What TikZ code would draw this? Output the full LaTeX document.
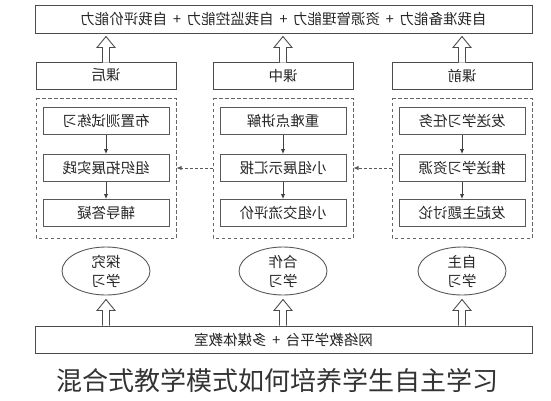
\documentclass[tikz,border=0pt]{standalone}
\usepackage{fontspec}
\newfontfamily\cjk{Noto Sans CJK SC}
\usetikzlibrary{shapes.geometric,arrows.meta}

\begin{document}
\begin{tikzpicture}
   [x=1pt,y=-1pt,
   every node/.style={font=\cjk\fontsize{14.5}{19}\selectfont,text=black!85,inner sep=0pt},
   wide/.style={draw=black!70,line width=1pt,minimum width=497pt,minimum height=28pt},
   stage/.style={draw=black!70,line width=1pt,minimum width=140pt,minimum height=27pt},
   stepbox/.style={draw=black!65,line width=1pt,minimum width=126pt,minimum height=27pt},
   group/.style={draw=black!60,line width=1pt,dash pattern=on 3.5pt off 2.5pt,minimum width=140pt,minimum height=140pt},
   study/.style={ellipse,draw=black!65,line width=0.9pt,minimum width=88pt,minimum height=48pt,align=center},
   down/.style={-{Latex[length=5pt,width=4.5pt]},black!75,line width=0.9pt},
   link/.style={-{Latex[length=5pt,width=4.5pt]},black!65,line width=0.9pt,dash pattern=on 3pt off 2pt},
   hollowup/.pic={\draw[black!70,line width=0.9pt,fill=white]
      (-3.5,0) -- (-3.5,-15) -- (-9,-15) -- (0,-26) -- (9,-15) -- (3.5,-15) -- (3.5,0);}]
    \useasboundingbox (0,0) rectangle (551,400);
    % the whole chart is printed mirrored
    \begin{scope}[xshift=551pt,xscale=-1,transform shape]
    \node[wide] (abil) at (267.5,19) {自我准备能力 \,+\, 资源管理能力 \,+\, 自我监控能力 \,+\, 自我评价能力};
    \node[stage] (hpre) at (89,75.5) {课前};
    \node[stage] (hin) at (268,75.5) {课中};
    \node[stage] (hpost) at (445,75.5) {课后};
    \pic at ([yshift=-1pt]hpre.north) {hollowup};
    \pic at ([yshift=-1pt]hin.north) {hollowup};
    \pic at ([yshift=-1pt]hpost.north) {hollowup};
    % groups of steps
    \node[group] (gpre) at (89,168) {};
    \node[group] (gin) at (268,168) {};
    \node[group] (gpost) at (445,168) {};
    \node[stepbox] (pre1) at (89,120.5) {发送学习任务};
    \node[stepbox] (pre2) at (89,168) {推送学习资源};
    \node[stepbox] (pre3) at (89,213) {发起主题讨论};
    \node[stepbox] (in1) at (268,120.5) {重难点讲解};
    \node[stepbox] (in2) at (268,168) {小组展示汇报};
    \node[stepbox] (in3) at (268,213) {小组交流评价};
    \node[stepbox] (post1) at (445,120.5) {布置测试练习};
    \node[stepbox] (post2) at (445,168) {组织拓展实践};
    \node[stepbox] (post3) at (445,213) {辅导答疑};
    \draw[down] (pre1) -- (pre2);
    \draw[down] (pre2) -- (pre3);
    \draw[down] (in1) -- (in2);
    \draw[down] (in2) -- (in3);
    \draw[down] (post1) -- (post2);
    \draw[down] (post2) -- (post3);
    \draw[link] (pre2.east -| gpre.east) -- (gin.west);
    \draw[link] (in2.east -| gin.east) -- (gpost.west);
    % ways of learning
    \node[study] (epre) at (89,271) {自主\\学习};
    \node[study] (ein) at (268,271) {合作\\学习};
    \node[study] (epost) at (445,271) {探究\\学习};
    \node[wide,minimum height=27pt] (base) at (267.5,339.5) {网络教学平台 \,+\, 多媒体教室};
    \pic at (base.north -| epre) {hollowup};
    \pic at (base.north -| ein) {hollowup};
    \pic at (base.north -| epost) {hollowup};
    \end{scope}
    \node[font=\cjk\fontsize{26}{28}\selectfont,text=black!80] (title) at (277,381) {混合式教学模式如何培养学生自主学习};
\end{tikzpicture}
\end{document}
